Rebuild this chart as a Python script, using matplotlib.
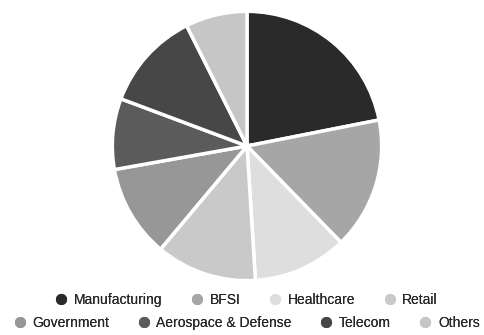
import matplotlib.pyplot as plt
from matplotlib.lines import Line2D

plt.rcParams['font.family'] = 'Liberation Sans'
plt.rcParams['font.size'] = 10

sectors = ["Manufacturing", "BFSI", "Healthcare", "Retail",
           "Government", "Aerospace & Defense", "Telecom", "Others"]
shares = [21.9, 15.8, 11.3, 12.1, 11.1, 8.5, 11.9, 7.4]
colors = ["#2a2a2a", "#a6a6a6", "#dedede", "#c9c9c9",
          "#979797", "#5b5b5b", "#474747", "#c6c6c6"]

fig = plt.figure(figsize=(4.84, 3.35), dpi=100)
ax = fig.add_axes([111 / 484, 53 / 335, 272 / 484, 272 / 335])

ax.pie(shares, colors=colors, startangle=90, counterclock=False,
       wedgeprops=dict(edgecolor="white", linewidth=2.5))
ax.set_xlim(-1.01, 1.01)
ax.set_ylim(-1.01, 1.01)

handles = [Line2D([], [], marker="o", linestyle="", markersize=7,
                  markerfacecolor=c, markeredgecolor=c) for c in colors]

# two centred rows of four entries
for row, y in [(0, 0.104), (1, 0.036)]:
    leg = fig.legend(handles[row * 4:row * 4 + 4], sectors[row * 4:row * 4 + 4],
                     loc="center", bbox_to_anchor=(0.51, y), ncol=4,
                     frameon=False, handlelength=0.8, handletextpad=0.5,
                     columnspacing=2.1, borderpad=0, labelcolor="#262626")
    fig.add_artist(leg)

fig.savefig("out.png", dpi=100)
